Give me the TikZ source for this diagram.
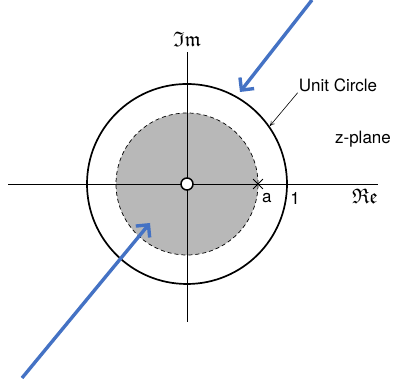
\documentclass[tikz,border=0pt]{standalone}
\usepackage{amssymb}
\usepackage{fontspec}
\setmainfont{TeX Gyre Heros}
\usetikzlibrary{arrows.meta,positioning,shapes.misc}
\definecolor{hintblue}{RGB}{68,114,196}

\begin{document}
\begin{tikzpicture}[
    x=1pt, y=1pt,
    >=Stealth,
    axis/.style={line width=0.7pt},
    ucircle/.style={draw, line width=1.7pt},
    region/.style={draw, fill=black!28, line width=0.7pt, dash pattern=on 4pt off 3pt},
    lbl/.style={font=\fontsize{17}{20}\selectfont, inner sep=1pt},
    axlbl/.style={font=\fontsize{21}{24}\selectfont, inner sep=1pt},
    pointer/.style={-{To[length=5pt,width=5pt]}, line width=0.6pt},
    hint/.style={-{Straight Barb[length=9pt,width=18pt]}, draw=hintblue, line width=3.4pt},
    pole/.style={draw, cross out, line width=0.8pt, minimum size=9pt, inner sep=0pt},
    zero/.style={draw, circle, fill=white, line width=1.5pt, minimum size=12pt, inner sep=0pt}
]
\useasboundingbox (0,0) rectangle (394,379);

% Origin and axis ends
\coordinate (O) at (187,195);
\coordinate (xl) at (8,195);
\coordinate (xr) at (378,195);
\coordinate (yb) at (187,57);
\coordinate (yt) at (187,327);

% Region of convergence and unit circle
\draw[region] (O) circle[radius=71];
\draw[axis] (xl) -- (xr);
\draw[axis] (yb) -- (yt);
\draw[ucircle] (O) circle[radius=100];
\path (O) ++(35:101) coordinate (ucpt);

% Pole, zero and labels
\node[zero] (zr) at (O) {};
\node[pole] (xa) at (258,195) {};
\node[lbl, below right=3pt and -2pt of xa] (alab) {a};
\node[lbl] (one) at (295,181) {1};
\node[axlbl] (relab) at (365,183) {$\mathfrak{Re}$};
\node[axlbl] (imlab) at (187,340) {$\mathfrak{Im}$};
\node[lbl] (unitlbl) at (338,294) {Unit Circle};
\node[lbl] (zplane) at (363,240) {z-plane};

\draw[pointer] (unitlbl.south west) -- (ucpt);

% Blue hints
\coordinate (topstart) at (312,379);
\coordinate (toptip) at (240,287);
\coordinate (botstart) at (22,1);
\coordinate (bottip) at (150,156);
\draw[hint] (topstart) -- (toptip);
\draw[hint] (botstart) -- (bottip);

\end{tikzpicture}
\end{document}
